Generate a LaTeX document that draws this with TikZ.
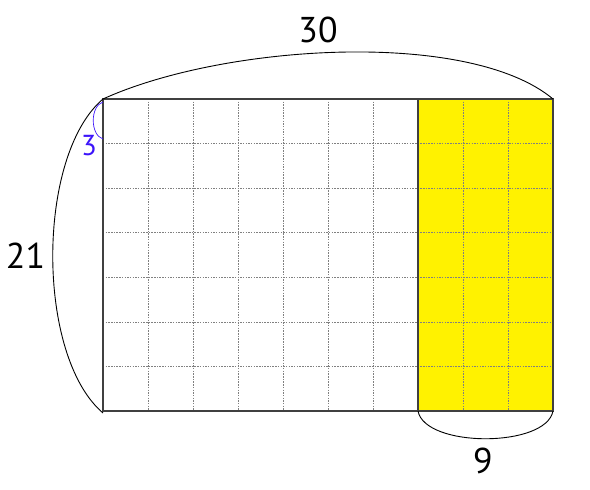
\documentclass[tikz,border=0pt]{standalone}
\usepackage{fontspec}
\setmainfont{PT Sans}
\usetikzlibrary{positioning}
\definecolor{framegray}{RGB}{64,64,64}
\definecolor{markblue}{RGB}{60,20,250}
\tikzset{
	frame/.style={% outer border of the board
		draw=framegray,
		line width=1.9pt
	},
	gridline/.style={
		draw=gray,
		line width=0.6pt,
		dash pattern=on 1.5pt off 1.2pt
	},
	brace/.style={
		draw=black,
		line width=0.9pt
	},
	measure/.style={
		text=black,
		inner sep=0pt,
		font=\fontsize{36}{40}\selectfont
	}
}
\begin{document}
\begin{tikzpicture}[x=1bp,y=-1bp]
                        \useasboundingbox (0,0) rectangle (590,490);
                        \coordinate (tl) at (103,99);
                        \coordinate (tr) at (553,99);
                        \coordinate (bl) at (103,411);
                        \coordinate (br) at (553,411);
                        \coordinate (ytl) at (418,99);
                        \coordinate (ybl) at (418,411);
                        \coordinate (lend) at (103,413);
                        \coordinate (sfrom) at (103,102);
                        \coordinate (sto) at (103,139);
                        \fill [yellow] (ytl) rectangle (br);
                        \foreach \i in {1,...,9}
                                \draw [gridline] (103+45*\i,99) -- (103+45*\i,411);
                        \foreach \j in {1,...,6}
                                \draw [gridline] (103,99+312/7*\j) -- (553,99+312/7*\j);
                        \draw [frame] (tl) rectangle (br);
                        \draw [frame] (ytl) -- (ybl);
                        \draw [brace] (tl) .. controls +(121,-55) and +(-84,-70) .. (tr);
                        \draw [brace] (tl) .. controls +(-67,57) and +(-67,-57) .. (lend);
                        \draw [brace] (ybl) .. controls +(7,37) and +(-7,37) .. (br);
                        \draw [brace, markblue, line width=0.7pt] (sfrom) .. controls +(-13,4) and +(-13,-4) .. (sto);
                        \node [measure] (top) at (318,29.5) {30};
                        \node [measure] (side) at (25.5,255.5) {21};
                        \node [measure] (part) at (483,460.5) {9};
                        \node [measure, text=markblue, font=\fontsize{29}{32}\selectfont] (unit) at (89,145.3) {3};
                \end{tikzpicture}
\end{document}
